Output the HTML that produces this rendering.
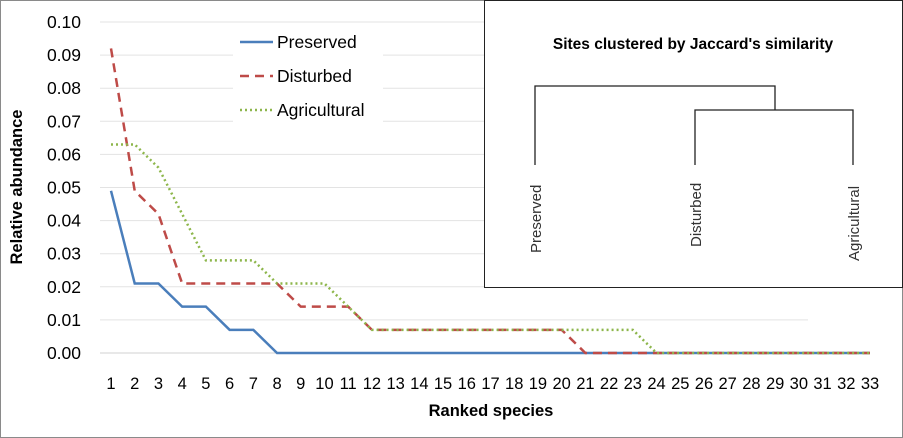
<!DOCTYPE html>
<html><head><meta charset="utf-8"><style>
html,body{margin:0;padding:0;background:#fff}
svg{display:block;font-family:"Liberation Sans",sans-serif}
</style></head><body>
<svg id="c" width="903" height="438" viewBox="0 0 903 438">
<rect x="0.5" y="0.5" width="902" height="437" fill="#fff" stroke="#8a8a8a"/>
<g id="grid"></g><g id="ylab"></g><g id="xlab"></g><g id="series"></g>
<text x="22" y="187" transform="rotate(-90 22 187)" text-anchor="middle" font-size="16.5" font-weight="bold">Relative abundance</text>
<text x="491" y="416" text-anchor="middle" font-size="16.5" font-weight="bold">Ranked species</text>
<g>
<rect x="233" y="28" width="150" height="98" fill="#fff"/>
<g><line x1="240" y1="42" x2="273" y2="42" stroke="#4a7ebb" stroke-width="2.5"/><text x="277" y="48" font-size="17.5">Preserved</text></g>
<g><line x1="240" y1="76" x2="273" y2="76" stroke="#be4b48" stroke-width="2.5" stroke-dasharray="9,6"/><text x="277" y="82" font-size="17.5">Disturbed</text></g>
<g><line x1="240" y1="110" x2="273" y2="110" stroke="#8db64b" stroke-width="2.5" stroke-dasharray="2,3"/><text x="277" y="116" font-size="17.5">Agricultural</text></g>
</g>
<g>
<rect x="484.5" y="0.5" width="418" height="287" fill="#fff" stroke="#222" stroke-width="1"/>
<text x="693" y="49" text-anchor="middle" font-size="15.5" font-weight="bold">Sites clustered by Jaccard's similarity</text>
<path d="M535 165V86H775V110M695 165V110H853V165" fill="none" stroke="#222" stroke-width="1.3"/>
<text transform="translate(541 253) rotate(-90)" font-size="15" fill="#333">Preserved</text>
<text transform="translate(701 247) rotate(-90)" font-size="15" fill="#333">Disturbed</text>
<text transform="translate(859 261) rotate(-90)" font-size="15" fill="#333">Agricultural</text>
</g>
</svg>
<script>
const categories=[];for(let i=1;i<=33;i++)categories.push(i);
const yTicks=[0,0.01,0.02,0.03,0.04,0.05,0.06,0.07,0.08,0.09,0.10];
const preserved=[0.049,0.021,0.021,0.014,0.014,0.007,0.007,0,0,0,0,0,0,0,0,0,0,0,0,0,0,0,0,0,0,0,0,0,0,0,0,0,0];
const disturbed=[0.092,0.049,0.042,0.021,0.021,0.021,0.021,0.021,0.014,0.014,0.014,0.007,0.007,0.007,0.007,0.007,0.007,0.007,0.007,0.007,0,0,0,0,0,0,0,0,0,0,0,0,0];
const agricultural=[0.063,0.063,0.056,0.042,0.028,0.028,0.028,0.021,0.021,0.021,0.014,0.007,0.007,0.007,0.007,0.007,0.007,0.007,0.007,0.007,0.007,0.007,0.007,0,0,0,0,0,0,0,0,0,0];
const NS="http://www.w3.org/2000/svg";
const xs=i=>111+i*(870-111)/32;
const ys=v=>353-v*3310;
function mk(t,a,p){const e=document.createElementNS(NS,t);for(const k in a)e.setAttribute(k,a[k]);p.appendChild(e);return e;}
const grid=document.getElementById('grid'),yl=document.getElementById('ylab'),xl=document.getElementById('xlab'),sg=document.getElementById('series');
yTicks.forEach(v=>{
 const l=mk('line',{x1:100,x2:808,y1:ys(v),y2:ys(v),stroke:v===0?'#d0d0d0':'#e3e3e3','stroke-width':1},grid);
 
 
 const t=mk('text',{x:81,y:ys(v)+6,'text-anchor':'end','font-size':17.5},yl);t.textContent=v.toFixed(2);
 
 
});
categories.forEach((c,i)=>{
 const t=mk('text',{x:xs(i),y:389,'text-anchor':'middle','font-size':16.5},xl);t.textContent=c;
 
 
});
function line(data,color,dash,name){
 const p=mk('polyline',{points:data.map((v,i)=>xs(i)+','+ys(v)).join(' '),fill:'none',stroke:color,'stroke-width':2.5,'stroke-dasharray':dash},sg);
 
 
}
line(preserved,'#4a7ebb','none','series-preserved');
line(disturbed,'#be4b48','9,6','series-disturbed');
line(agricultural,'#8db64b','2,3','series-agricultural');
</script>
</body></html>
